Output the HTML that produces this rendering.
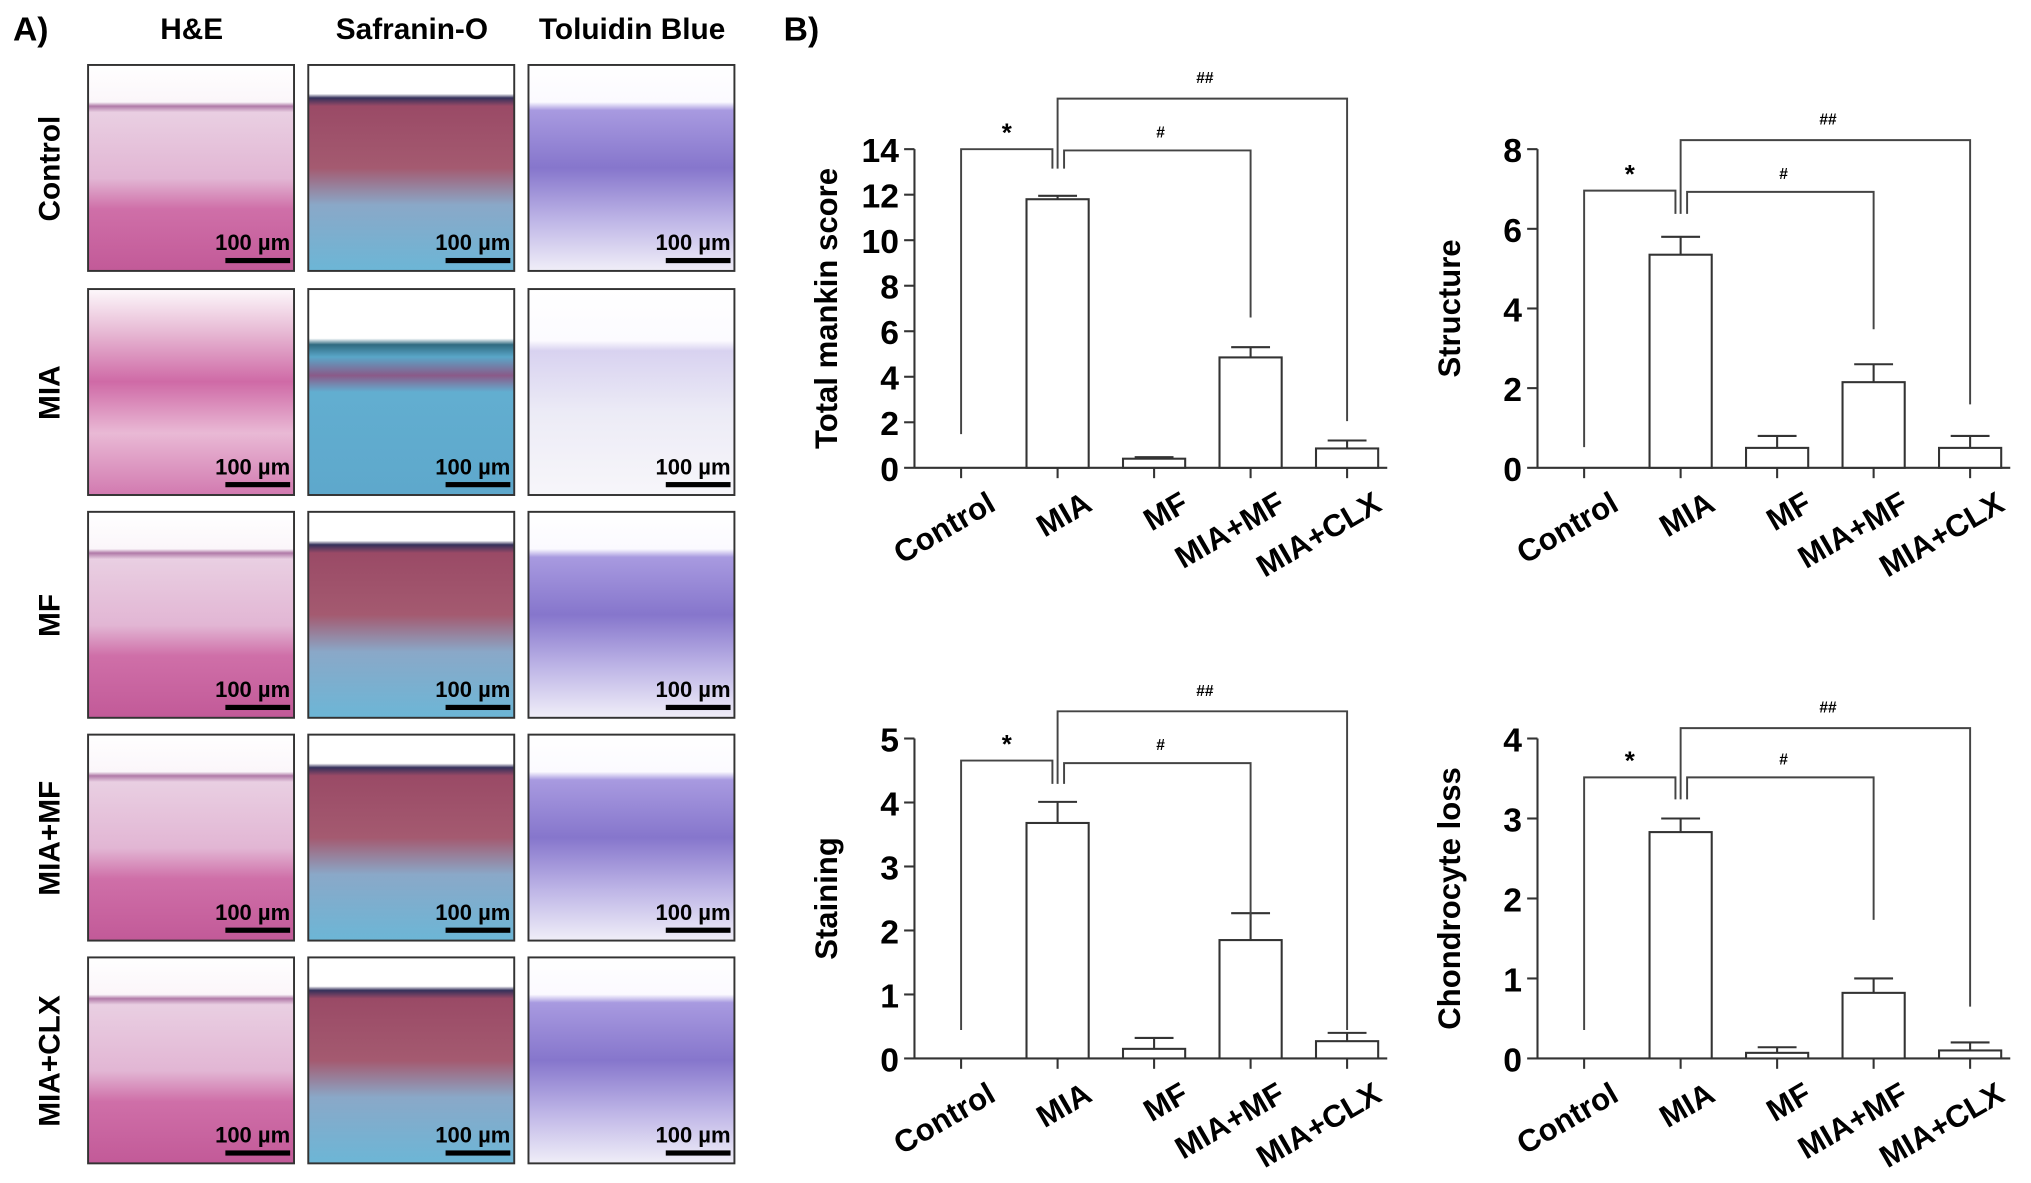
<!DOCTYPE html>
<html><head><meta charset="utf-8">
<style>
html,body{margin:0;padding:0;background:#fff;}
svg{display:block;font-family:"Liberation Sans",Arial,sans-serif;}
</style></head>
<body>
<svg id="fig" width="2031" height="1183" viewBox="0 0 1568 913" xmlns="http://www.w3.org/2000/svg">
<defs>
<linearGradient id="he" x1="0" y1="0" x2="0" y2="1">
<stop offset="0" stop-color="#ffffff"/><stop offset="0.18" stop-color="#fbf6fa"/><stop offset="0.2" stop-color="#b07aa8"/><stop offset="0.23" stop-color="#e9cfe2"/><stop offset="0.55" stop-color="#e2b6d4"/><stop offset="0.7" stop-color="#cf6fa8"/><stop offset="1" stop-color="#c25a98"/></linearGradient>
<linearGradient id="heM" x1="0" y1="0" x2="0" y2="1">
<stop offset="0" stop-color="#fdf8fb"/><stop offset="0.2" stop-color="#e8bcd6"/><stop offset="0.45" stop-color="#cf6aa6"/><stop offset="0.7" stop-color="#e9b9d5"/><stop offset="1" stop-color="#d27ab0"/></linearGradient>
<linearGradient id="sa" x1="0" y1="0" x2="0" y2="1">
<stop offset="0" stop-color="#ffffff"/><stop offset="0.14" stop-color="#ffffff"/><stop offset="0.16" stop-color="#34305a"/><stop offset="0.2" stop-color="#9a4a66"/><stop offset="0.5" stop-color="#a45a70"/><stop offset="0.68" stop-color="#8aa8c8"/><stop offset="1" stop-color="#6cb6d6"/></linearGradient>
<linearGradient id="saM" x1="0" y1="0" x2="0" y2="1">
<stop offset="0" stop-color="#ffffff"/><stop offset="0.24" stop-color="#ffffff"/><stop offset="0.27" stop-color="#2f6a80"/><stop offset="0.33" stop-color="#5aa6c8"/><stop offset="0.42" stop-color="#8a5a88"/><stop offset="0.5" stop-color="#62aed0"/><stop offset="1" stop-color="#5ea8cc"/></linearGradient>
<linearGradient id="tb" x1="0" y1="0" x2="0" y2="1">
<stop offset="0" stop-color="#ffffff"/><stop offset="0.18" stop-color="#fbfaff"/><stop offset="0.22" stop-color="#a89ae0"/><stop offset="0.5" stop-color="#8676cc"/><stop offset="0.75" stop-color="#bdb4e6"/><stop offset="1" stop-color="#f0eef8"/></linearGradient>
<linearGradient id="tbM" x1="0" y1="0" x2="0" y2="1">
<stop offset="0" stop-color="#ffffff"/><stop offset="0.25" stop-color="#fcfbff"/><stop offset="0.3" stop-color="#d8d2f0"/><stop offset="0.6" stop-color="#ecebf6"/><stop offset="1" stop-color="#f7f6fa"/></linearGradient>
</defs>
<g id="panelA"></g>
<g id="panelB"></g>
</svg>
<script>
const NS="http://www.w3.org/2000/svg";
// ---- chart data ----
const categories=["Control","MIA","MF","MIA+MF","MIA+CLX"];
const mankinValues=[0,11.8,0.4,4.85,0.85];
const mankinErrors=[0,0.15,0.07,0.45,0.35];
const mankinTicks=[0,2,4,6,8,10,12,14];
const structureValues=[0,5.35,0.5,2.15,0.5];
const structureErrors=[0,0.45,0.3,0.45,0.3];
const structureTicks=[0,2,4,6,8];
const stainingValues=[0,3.68,0.15,1.85,0.27];
const stainingErrors=[0,0.33,0.17,0.42,0.13];
const stainingTicks=[0,1,2,3,4,5];
const chondroValues=[0,2.83,0.07,0.82,0.1];
const chondroErrors=[0,0.17,0.07,0.18,0.1];
const chondroTicks=[0,1,2,3,4];
const rowLabels=["Control","MIA","MF","MIA+MF","MIA+CLX"];
const stainHeaders=["H&E","Safranin-O","Toluidin Blue"];

function mk(tag,attrs,parent,txt){const e=document.createElementNS(NS,tag);for(const k in attrs)e.setAttribute(k,attrs[k]);if(txt!==undefined)e.textContent=txt;parent.appendChild(e);return e;}

// ---- Panel A ----
const A=document.getElementById('panelA');
let t=mk('text',{x:10,y:31,'font-size':26,'font-weight':'bold'},A,'A)');


const colX=[68,238,408], rowY=[50,223,395,567,739];
stainHeaders.forEach((h,i)=>{
 const e=mk('text',{x:colX[i]+80,y:30,'font-size':23,'font-weight':'bold','text-anchor':'middle'},A,h);
 
 
});
rowLabels.forEach((r,j)=>{
 const cy=rowY[j]+80;
 const e=mk('text',{x:0,y:0,'font-size':23,'font-weight':'bold','text-anchor':'middle',transform:`translate(46,${cy}) rotate(-90)`},A,r);
 
 
 for(let i=0;i<3;i++){
  const mia=(j===1);
  const fill=['he','sa','tb'][i]+(mia?'M':'');
  const img=mk('rect',{x:colX[i],y:rowY[j],width:159,height:159,fill:`url(#${fill})`,stroke:'#333','stroke-width':1.5},A);
  
  
  const lbl=mk('text',{x:colX[i]+156,y:rowY[j]+143,'font-size':17,'font-weight':'bold','text-anchor':'end'},A,'100 µm');
  
  
  const bar=mk('rect',{x:colX[i]+106,y:rowY[j]+149,width:50,height:4,fill:'#000'},A);
  
  
 }
});

// ---- Panel B ----
const B=document.getElementById('panelB');
t=mk('text',{x:605,y:31,'font-size':26,'font-weight':'bold'},B,'B)');



function chart(cfg){
 const g=mk('g',{},B);
 
 
 const x0=cfg.ax, yTop=cfg.top, yBot=cfg.bot, max=cfg.ticks[cfg.ticks.length-1];
 const y=v=>yBot-(v/max)*(yBot-yTop);
 const step=74.5, c0=x0+36;
 const cx=i=>c0+i*step;
 const ln=(x1,y1,x2,y2)=>mk('line',{x1,y1,x2,y2,stroke:'#333','stroke-width':1.6},g);
 const ya=ln(x0,yTop,x0,yBot);
 
 
 const xa=ln(x0,yBot,x0+365,yBot);
 
 
 cfg.ticks.forEach(v=>{
  ln(x0-8,y(v),x0,y(v));
  const e=mk('text',{x:x0-12,y:y(v)+10,'font-size':26,'font-weight':'bold','text-anchor':'end'},g,String(v));
  
  
 });
 const tt=mk('text',{x:0,y:0,'font-size':24,'font-weight':'bold','text-anchor':'middle',transform:`translate(${x0-60},${(yTop+yBot)/2}) rotate(-90)`},g,cfg.title);
 
 
 categories.forEach((c,i)=>{
  ln(cx(i),yBot,cx(i),yBot+8);
  const e=mk('text',{x:0,y:0,'font-size':24,'font-weight':'bold','text-anchor':'end',transform:`translate(${cx(i)+28},${yBot+32}) rotate(-30)`},g,c);
  
  
  const v=cfg.values[i], er=cfg.errors[i];
  if(v>0){
   const b=mk('rect',{x:cx(i)-24,y:y(v),width:48,height:yBot-y(v),fill:'#fff',stroke:'#333','stroke-width':1.6},g);
   
   
   const e1=ln(cx(i),y(v),cx(i),y(v+er));
   
   
   ln(cx(i)-15,y(v+er),cx(i)+15,y(v+er));
  }
 });
 const br=cfg.br;
 const p=mk('polyline',{points:`${cx(0)},${br.s0} ${cx(0)},${br.sTop} ${cx(1)-4},${br.sTop} ${cx(1)-4},${br.mid}`,fill:'none',stroke:'#444','stroke-width':1.5},g);
 
 
 const p2=mk('polyline',{points:`${cx(1)+5},${br.mid} ${cx(1)+5},${br.hTop} ${cx(3)},${br.hTop} ${cx(3)},${br.h3}`,fill:'none',stroke:'#444','stroke-width':1.5},g);
 
 
 const p3=mk('polyline',{points:`${cx(1)},${br.mid} ${cx(1)},${br.hhTop} ${cx(4)},${br.hhTop} ${cx(4)},${br.h4}`,fill:'none',stroke:'#444','stroke-width':1.5},g);
 
 
 const s1=mk('text',{x:(cx(0)+cx(1))/2-2,y:br.sTop-6,'font-size':20,'font-weight':'bold','text-anchor':'middle'},g,'*');
 
 
 const s2=mk('text',{x:(cx(1)+cx(3))/2+5,y:br.hTop-10,'font-size':12,'font-weight':'bold','text-anchor':'middle'},g,'#');
 
 
 const s3=mk('text',{x:(cx(1)+cx(4))/2+2,y:br.hhTop-12,'font-size':12,'font-weight':'bold','text-anchor':'middle'},g,'##');
 
 
}
chart({name:'chart-total-mankin',ax:706,top:115,bot:361,ticks:mankinTicks,values:mankinValues,errors:mankinErrors,title:'Total mankin score',
 br:{s0:335,sTop:115,mid:130,hTop:116,h3:245,hhTop:76,h4:325}});
chart({name:'chart-structure',ax:1187,top:115,bot:361,ticks:structureTicks,values:structureValues,errors:structureErrors,title:'Structure',
 br:{s0:345,sTop:147,mid:165,hTop:148,h3:254,hhTop:108,h4:312}});
chart({name:'chart-staining',ax:706,top:570,bot:817,ticks:stainingTicks,values:stainingValues,errors:stainingErrors,title:'Staining',
 br:{s0:795,sTop:587,mid:605,hTop:589,h3:710,hhTop:549,h4:795}});
chart({name:'chart-chondrocyte-loss',ax:1187,top:570,bot:817,ticks:chondroTicks,values:chondroValues,errors:chondroErrors,title:'Chondrocyte loss',
 br:{s0:795,sTop:600,mid:617,hTop:600,h3:710,hhTop:562,h4:777}});
</script>
</body></html>
